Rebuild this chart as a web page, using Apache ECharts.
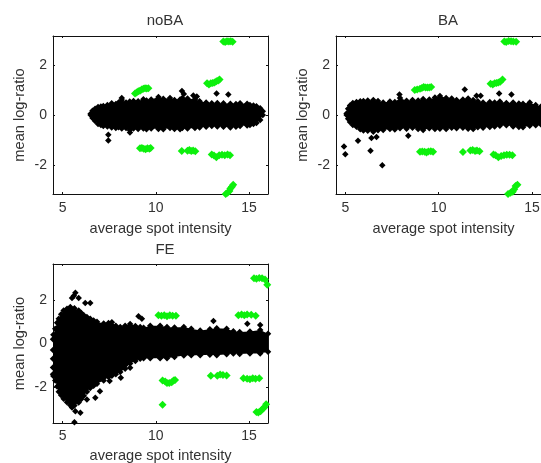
<!DOCTYPE html>
<html><head><meta charset="utf-8">
<style>html,body{margin:0;padding:0;background:#fff;overflow:hidden}#c{width:541px;height:463px}</style>
<script src="https://cdn.jsdelivr.net/npm/echarts@6/dist/echarts.min.js"></script>
</head><body><div id="c"></div>
<script>
const panelTitles = ['noBA','BA','FE'];
const xTicks = [5,10,15];
const yTicks = [-2,0,2];
const xLabel = 'average spot intensity';
const yLabel = 'mean log-ratio';

// [x, upper edge, lower edge] of the dense black cloud
const noBA_cloud = [[6.5,.05,.0],[6.6,.17,-.12],[6.74,.25,-.24],[6.9,.32,-.36],[7.05,.34,-.4],[7.18,.36,-.44],[7.4,.4,-.46],[7.63,.47,-.5],[7.85,.44,-.52],[8,.5,-.49],[8.17,.6,-.54],[8.4,.5,-.52],[8.6,.54,-.6],[8.8,.56,-.54],[9.05,.55,-.56],[9.33,.63,-.54],[9.5,.58,-.57],[9.75,.62,-.54],[10.14,.72,-.56],[10.4,.65,-.57],[10.76,.68,-.52],[11,.6,-.56],[11.3,.62,-.57],[11.42,.68,-.52],[11.7,.66,-.54],[12.1,.63,-.52],[12.35,.55,-.5],[12.7,.5,-.47],[13,.47,-.44],[13.3,.48,-.46],[13.63,.47,-.47],[14,.45,-.5],[14.3,.44,-.47],[14.52,.47,-.44],[14.9,.45,-.42],[15.05,.4,-.4],[15.24,.38,-.36],[15.4,.35,-.32],[15.6,.27,-.2],[15.74,.15,.0]];
const BA_cloud = [[5.07,.06,.0],[5.15,.25,-.15],[5.25,.38,-.28],[5.4,.48,-.4],[5.6,.52,-.47],[5.8,.55,-.57],[5.97,.56,-.62],[6.2,.58,-.63],[6.5,.6,-.67],[6.75,.56,-.61],[7.03,.5,-.6],[7.39,.54,-.56],[7.65,.52,-.58],[7.93,.68,-.53],[8.28,.57,-.55],[8.6,.6,-.51],[8.9,.58,-.56],[9.17,.64,-.6],[9.5,.62,-.53],[9.8,.7,-.56],[10.07,.76,-.55],[10.4,.68,-.56],[10.7,.66,-.51],[10.96,.6,-.53],[11.3,.62,-.51],[11.58,.66,-.55],[11.85,.6,-.56],[12.1,.55,-.49],[12.38,.5,-.51],[12.74,.52,-.48],[13,.5,-.46],[13.28,.54,-.43],[13.63,.48,-.41],[13.99,.5,-.46],[14.3,.46,-.48],[14.52,.45,-.49],[14.88,.5,-.43],[15.2,.4,-.41],[15.47,.33,-.37],[15.65,.24,-.27]];
const FE_cloud = [[4.48,.2,-1.42],[4.5,.4,-1.5],[4.6,.68,-1.7],[4.7,.95,-1.98],[4.79,1.14,-2.22],[4.92,1.35,-2.38],[5.05,1.52,-2.54],[5.23,1.6,-2.7],[5.41,1.68,-2.84],[5.63,1.62,-2.85],[5.86,1.52,-2.72],[6,1.4,-2.55],[6.13,1.3,-2.4],[6.3,1.22,-2.22],[6.48,1.14,-2.05],[6.66,1.06,-1.95],[6.84,1,-1.85],[7.2,.92,-1.7],[7.46,.94,-1.54],[7.64,.98,-1.48],[7.85,.82,-1.42],[8.09,.76,-1.31],[8.35,.82,-1.16],[8.62,.9,-.92],[8.9,.8,-.8],[9.16,.76,-.7],[9.34,.72,-.68],[9.7,.82,-.68],[10.23,.82,-.68],[10.6,.76,-.68],[11,.74,-.62],[11.5,.76,-.55],[11.9,.68,-.54],[12.38,.6,-.54],[12.9,.66,-.52],[13.27,.7,-.54],[13.8,.68,-.5],[14.16,.56,-.46],[14.5,.53,-.48],[15.05,.55,-.46],[15.6,.62,-.46],[16.02,.45,-.38]];

const noBA_black = [[13.26,.86],[13.89,.82],[11.4,.96],[11.5,.84],[7.45,-.79],[7.45,-1.02],[8.61,-.7],[12.01,.78],[12.2,.74],[8.17,.68]];
const BA_black = [[4.93,-1.26],[5,-1.57],[5.68,-1.03],[6.35,-1.43],[6.98,-2.02],[6.4,-.92],[6.67,-.88],[8.37,-.83],[11.4,1.02],[13.24,.86],[13.9,.82],[7.9,.82],[12.03,.77],[12.25,.77]];
const FE_black = [[4.48,-.3],[4.48,-.7],[4.48,-1.1],[5.68,2.34],[5.5,2.1],[5.6,2.2],[5.86,2.1],[6.21,1.87],[6.48,1.87],[9.07,1.26],[9.25,1.14],[13.09,1.04],[14.91,.91],[15.6,.85],[5.63,-3.62],[5.68,-3.12],[5.95,-3.19],[5.5,-2.95],[6.3,-2.58],[6.75,-2.5],[7,-2.2],[6.66,-1.81],[7.52,-1.73],[8.12,-1.58],[8.62,-1.12]];

const noBA_green = [[8.88,.86],[8.97,.9],[9.06,.95],[9.15,.97],[9.24,1.02],[9.33,1.05],[9.42,1.07],[9.51,1.06],[9.6,1.07],[13.62,2.95],[13.72,2.93],[13.82,2.96],[13.92,2.95],[14.02,2.96],[14.12,2.94],[12.75,1.27],[12.85,1.22],[12.95,1.27],[13.05,1.28],[13.15,1.3],[13.25,1.35],[13.35,1.38],[13.42,1.42],[9.15,-1.33],[9.25,-1.32],[9.35,-1.35],[9.45,-1.37],[9.55,-1.33],[9.65,-1.35],[9.72,-1.32],[11.39,-1.44],[11.7,-1.43],[11.8,-1.4],[11.9,-1.44],[12,-1.42],[12.12,-1.45],[13,-1.58],[13.12,-1.63],[13.25,-1.7],[13.4,-1.62],[13.55,-1.6],[13.7,-1.62],[13.85,-1.58],[13.98,-1.62],[13.75,-3.17],[13.85,-3.12],[13.95,-3.05],[14,-2.95],[14.08,-2.88],[14.15,-2.8]];
const BA_green = [[8.72,1],[8.85,1.02],[9,1.05],[9.1,1.08],[9.2,1.12],[9.3,1.1],[9.4,1.1],[9.5,1.1],[9.6,1.12],[12.78,1.25],[12.9,1.22],[13,1.27],[13.1,1.28],[13.2,1.3],[13.3,1.33],[13.42,1.42],[13.52,2.95],[13.62,2.93],[13.75,2.97],[13.88,2.96],[14,2.95],[14.15,2.94],[9,-1.47],[9.12,-1.46],[9.25,-1.47],[9.35,-1.5],[9.45,-1.46],[9.58,-1.45],[9.7,-1.47],[11.3,-1.48],[11.7,-1.42],[11.82,-1.4],[11.95,-1.44],[12.05,-1.42],[12.19,-1.45],[12.94,-1.58],[13.05,-1.62],[13.2,-1.7],[13.35,-1.65],[13.5,-1.62],[13.65,-1.6],[13.8,-1.6],[13.95,-1.62],[13.72,-3.17],[13.85,-3.12],[13.97,-3.08],[14.05,-2.98],[14.12,-2.85],[14.22,-2.8]];
const FE_green = [[10.14,1.3],[10.3,1.28],[10.45,1.3],[10.6,1.25],[10.75,1.3],[10.9,1.28],[11.08,1.28],[14.43,1.3],[14.6,1.33],[14.75,1.3],[14.9,1.33],[15.12,1.32],[15.36,1.28],[15.27,3],[15.4,2.98],[15.55,3.02],[15.7,3],[15.86,2.95],[15.98,2.7],[10.36,-2.82],[10.36,-1.7],[10.5,-1.75],[10.6,-1.82],[10.72,-1.82],[10.85,-1.78],[10.95,-1.7],[11.03,-1.68],[12.95,-1.48],[13.3,-1.48],[13.45,-1.43],[13.6,-1.45],[13.8,-1.47],[14.7,-1.6],[14.9,-1.62],[15.05,-1.65],[15.2,-1.6],[15.35,-1.62],[15.55,-1.6],[15.4,-3.15],[15.5,-3.18],[15.62,-3.12],[15.72,-3.02],[15.82,-2.95],[15.92,-2.8]];

const clouds = [noBA_cloud,BA_cloud,FE_cloud];
const blacks = [noBA_black,BA_black,FE_black];
const greens = [noBA_green,BA_green,FE_green];
const xRange = [[4.48,16.02],[4.5,16.02],[4.48,16.02]];
const yRange = [[-3.17,3.17],[-3.17,3.17],[-3.66,3.66]];
const grids = [{left:53,top:36,width:215,height:158},{left:336,top:36,width:215,height:158},{left:53,top:264,width:215,height:159}];
const titleY = [8,8,237];
const titleX = [160,443,160];
const xNameGap = [27,27,25];
const xLabelMargin = [7,7,6];

const ink='#111', font='"Liberation Sans",Arial,sans-serif', txt='#333';
const chart = echarts.init(document.getElementById('c'),null,{renderer:'canvas'});
const xAxis=[],yAxis=[],series=[];
const lineOn={show:true,onZero:false,lineStyle:{color:ink,width:1}};
grids.forEach((g,i)=>{
  xAxis.push({type:'value',gridIndex:i,position:'bottom',min:xRange[i][0],max:xRange[i][1],name:xLabel,nameLocation:'middle',nameGap:xNameGap[i],
    nameTextStyle:{fontFamily:font,fontSize:14.6,color:txt},axisLine:lineOn,splitLine:{show:false},
    axisTick:{show:true,inside:true,length:2,customValues:xTicks,lineStyle:{color:ink}},
    axisLabel:{show:true,customValues:xTicks,margin:xLabelMargin[i],fontFamily:font,fontSize:14,color:txt,hideOverlap:false}});
  yAxis.push({type:'value',gridIndex:i,position:'left',min:yRange[i][0],max:yRange[i][1],name:yLabel,nameLocation:'middle',nameRotate:90,nameGap:26,
    nameTextStyle:{fontFamily:font,fontSize:14.6,color:txt},axisLine:lineOn,splitLine:{show:false},
    axisTick:{show:true,inside:true,length:2,customValues:yTicks,lineStyle:{color:ink}},
    axisLabel:{show:true,customValues:yTicks,margin:6,fontFamily:font,fontSize:14,color:txt}});
});
grids.forEach((g,i)=>{
  xAxis.push({type:'value',gridIndex:i,position:'top',min:xRange[i][0],max:xRange[i][1],axisLine:lineOn,splitLine:{show:false},
    axisTick:{show:true,inside:true,length:2,customValues:xTicks,lineStyle:{color:ink}},axisLabel:{show:false}});
  yAxis.push({type:'value',gridIndex:i,position:'right',min:yRange[i][0],max:yRange[i][1],axisLine:lineOn,splitLine:{show:false},
    axisTick:{show:true,inside:true,length:2,customValues:yTicks,lineStyle:{color:ink}},axisLabel:{show:false}});
});
grids.forEach((g,i)=>{
  const cloud=clouds[i];
  series.push({type:'custom',xAxisIndex:i,yAxisIndex:i,clip:true,silent:true,z:2,data:[cloud[0]],
    renderItem:(p,api)=>{
      const up=cloud.map(d=>api.coord([d[0],d[1]]));
      const lo=cloud.map(d=>api.coord([d[0],d[2]])).reverse();
      return {type:'polygon',shape:{points:up.concat(lo)},style:{fill:'#000'}};
    }});
  const edge=cloud.flatMap(d=>[[d[0],d[1]],[d[0],d[2]]]);
  series.push({type:'scatter',xAxisIndex:i,yAxisIndex:i,symbol:'diamond',symbolSize:6.5,silent:true,z:3,clip:true,itemStyle:{color:'#000',opacity:1},data:edge.concat(blacks[i])});
  series.push({type:'scatter',xAxisIndex:i,yAxisIndex:i,symbol:'diamond',symbolSize:8,silent:true,z:4,clip:true,itemStyle:{color:'#0df00d',opacity:1},data:greens[i]});
});
chart.setOption({animation:false,backgroundColor:'#fff',
  title:panelTitles.map((t,i)=>({text:t,left:titleX[i],top:titleY[i],textAlign:'center',textStyle:{fontFamily:font,fontSize:15,fontWeight:'normal',color:txt}})),
  grid:grids.map(g=>({left:g.left,top:g.top,width:g.width,height:g.height,containLabel:false,outerBoundsMode:'none'})),
  xAxis,yAxis,series});
</script></body></html>
